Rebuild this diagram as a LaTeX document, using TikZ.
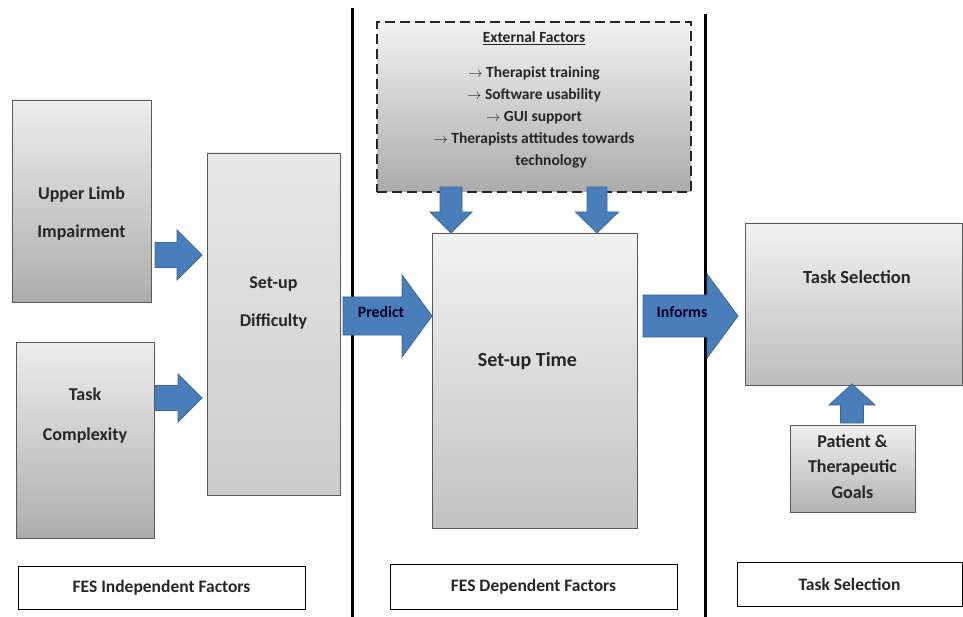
\documentclass[tikz,border=0pt]{standalone}
\usepackage{fontspec}
\setmainfont{Carlito}
\definecolor{arrblue}{HTML}{4A7EBB}
\definecolor{arredge}{HTML}{3A679A}
\definecolor{txtc}{HTML}{262626}
\newcommand\harrow[6]{\filldraw[blkarrow] (#1,#3-#4) -- (#2-#6,#3-#4) -- (#2-#6,#3-#5) -- (#2,#3) -- (#2-#6,#3+#5) -- (#2-#6,#3+#4) -- (#1,#3+#4) -- cycle;}
\newcommand\varrow[6]{\filldraw[blkarrow] (#1-#4,#2) -- (#1-#4,#3-#6) -- (#1-#5,#3-#6) -- (#1,#3) -- (#1+#5,#3-#6) -- (#1+#4,#3-#6) -- (#1+#4,#2) -- cycle;}
\tikzset{
  blkarrow/.style={fill=arrblue,draw=arredge,line width=0.8pt,line join=miter},
  graybox/.style={draw=black!65,line width=0.8pt,top color=#1,bottom color=black!32,inner sep=0pt},
  graybox/.default=black!7,
  lightbox/.style={draw=black!65,line width=0.8pt,top color=black!9,bottom color=black!20,inner sep=0pt},
  labelbox/.style={draw=black,line width=1pt,fill=white,inner sep=0pt,text=txtc,font=\fontsize{17.5}{19}\selectfont\bfseries},
  txt/.style={text=txtc,font=\fontsize{18}{38}\selectfont\bfseries,align=center,inner sep=0pt},
  arrtxt/.style={txt,font=\fontsize{15.8}{16}\selectfont\bfseries,text=black!85!blue},
  divider/.style={line width=3pt,black}
}
\begin{document}
\begin{tikzpicture}[x=1pt,y=-1pt]
\useasboundingbox[fill=white] (0,0) rectangle (963,617);
% dividers
\coordinate (d1t) at (352,8); \coordinate (d1b) at (352,617);
\coordinate (d2t) at (705,14); \coordinate (d2b) at (705,617);
\draw[divider] (d1t) -- (d1b);
\draw[divider] (d2t) -- (d2b);
% boxes
\node[graybox,minimum width=139pt,minimum height=202pt] (ul) at (81.5,201) {};
\node[graybox,minimum width=138pt,minimum height=196pt] (tc) at (85,440) {};
\node[lightbox,minimum width=133pt,minimum height=342pt] (sd) at (273.5,324) {};
\node[graybox=black!5,minimum width=205pt,minimum height=295pt,bottom color=black!24] (st) at (534.5,380.5) {};
\node[graybox=black!5,minimum width=217pt,minimum height=162pt,bottom color=black!26] (ts) at (853.5,304) {};
\node[graybox=black!6,minimum width=125pt,minimum height=87pt,bottom color=black!30] (pg) at (852.5,468.5) {};
\node[graybox=black!5,dashed,dash pattern=on 10pt off 5pt,line width=2.4pt,draw=black!85,minimum width=314pt,minimum height=170pt,bottom color=black!33] (ef) at (534,107) {};
% texts
\node[txt] (ul-t) at (81.5,213.5) {Upper Limb\\Impairment};
\node[txt,font=\fontsize{18}{40}\selectfont\bfseries] (tc-t) at (85,416) {Task\\Complexity};
\node[txt] (sd-t) at (273.5,303) {Set-up\\Difficulty};
\node[txt,font=\fontsize{20}{20}\selectfont\bfseries] (st-t) at (527.5,361) {Set-up Time};
\node[txt,font=\fontsize{18.5}{20}\selectfont\bfseries] (ts-t) at (857,277) {Task Selection};
\node[txt,font=\fontsize{18}{25.5}\selectfont\bfseries] (pg-t) at (852.5,466.5) {Patient \&\\Therapeutic\\Goals};
\node[txt,font=\fontsize{15.5}{15.5}\selectfont\bfseries] (ef-h) at (534,38) {\underline{External Factors}};
\node[txt,font=\fontsize{15.5}{22}\selectfont\bfseries] (ef-t) at (534,117) {$\rightarrow$ Therapist training\\$\rightarrow$ Software usability\\$\rightarrow$ GUI support\\$\rightarrow$ Therapists attitudes towards\\\hspace*{2.2em}technology};
% bottom label boxes
\node[labelbox,minimum width=287pt,minimum height=43pt] (lab1) at (161.5,587.5) {FES Independent Factors};
\node[labelbox,minimum width=287pt,minimum height=45pt] (lab2) at (533.5,586.5) {FES Dependent Factors};
\node[labelbox,minimum width=225pt,minimum height=44pt] (lab3) at (849.5,584) {Task Selection};
% block arrows
\harrow{155}{202}{255}{12.5}{25}{25}
\harrow{155}{202}{398}{12.5}{24}{24}
\harrow{343}{432}{316}{19}{41}{30}
\harrow{643}{738}{316}{21}{42}{31}
\varrow{451}{187}{233}{11}{21}{21}
\varrow{597}{187}{233}{10}{21.5}{21}
\varrow{852}{423}{384}{11.5}{23}{-21}
\node[arrtxt] (pr) at (381,312) {Predict};
\node[arrtxt] (inf) at (682,312) {Informs};
\end{tikzpicture}
\end{document}
